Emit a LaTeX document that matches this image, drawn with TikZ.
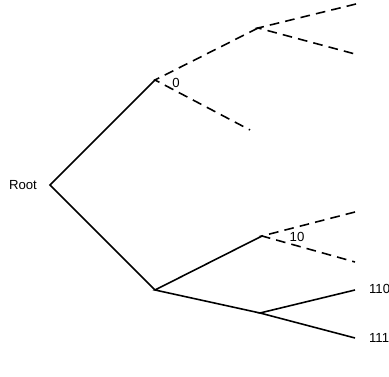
\documentclass[tikz,border=0pt]{standalone}
\usepackage{fontspec}
\setmainfont{Liberation Sans}
\usepackage{tikz}
\usetikzlibrary{positioning}

\tikzset{
  branch/.style={line width=0.9pt},
  guess/.style={line width=0.9pt, dash pattern=on 5.5pt off 3.5pt},
  lbl/.style={font=\fontsize{7.5}{9}\selectfont, inner sep=1pt}
}

\begin{document}
\begin{tikzpicture}[x=0.02cm, y=-0.02cm]
\useasboundingbox (0,0) rectangle (389,377);
% Branch points of the tree
\coordinate (root) at (50,185);
\coordinate (n0) at (155,80);
\coordinate (n00) at (258,28);
\coordinate (n000) at (356,4);
\coordinate (n001) at (355,54);
\coordinate (n01) at (250,130);
\coordinate (n1) at (155,290);
\coordinate (n10) at (262,236);
\coordinate (n100) at (355,212);
\coordinate (n101) at (355,262);
\coordinate (n11) at (260,313);
\coordinate (n110) at (355,290);
\coordinate (n111) at (355,338);
% Solid branches
\draw[branch] (n0) -- (root) -- (n1);
\draw[branch] (n10) -- (n1) -- (n11);
\draw[branch] (n110) -- (n11) -- (n111);
% Dashed branches
\draw[guess] (n00) -- (n0) -- (n01);
\draw[guess] (n000) -- (n00) -- (n001);
\draw[guess] (n100) -- (n10) -- (n101);
% Labels
\node[lbl, anchor=east] (rootlbl) at (39,185) {Root};
\node[lbl] (lbl0) at (176,83) {0};
\node[lbl] (lbl10) at (297,237) {10};
\node[lbl, anchor=west] (lbl110) at (367,289) {110};
\node[lbl, anchor=west] (lbl111) at (367,338) {111};
\end{tikzpicture}
\end{document}
